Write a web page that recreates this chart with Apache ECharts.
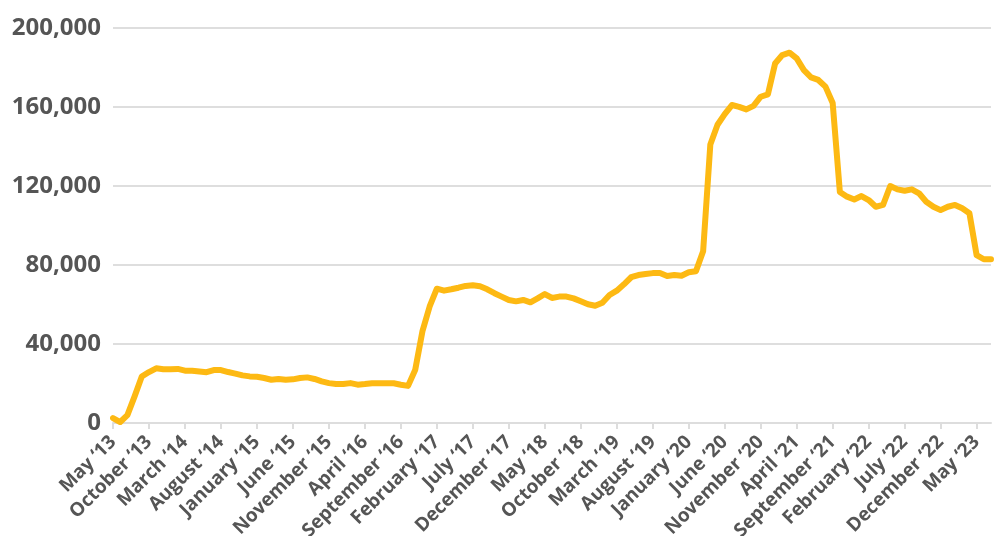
<!DOCTYPE html>
<html>
<head>
<meta charset="utf-8">
<script src="https://cdn.jsdelivr.net/npm/echarts@6/dist/echarts.min.js"></script>
<style>
  html, body { margin: 0; padding: 0; background: #fff; }
  #chart { width: 995px; height: 536px; }
</style>
</head>
<body>
<div id="chart"></div>
<script>
// Monthly series, May 2013 through July 2023
const monthNames = ['January', 'February', 'March', 'April', 'May', 'June', 'July',
  'August', 'September', 'October', 'November', 'December'];
const startYear = 2013;
const startMonth = 4; // May
const values = [
  2500, 500, 4000, 13500, 23500, 25800, 27700, 27200, 27200, 27400,
  26500, 26500, 26100, 25700, 26800, 26800, 25800, 25000, 24100, 23600,
  23400, 22800, 21900, 22300, 21900, 22100, 22800, 23100, 22300, 21100,
  20200, 19700, 19700, 20200, 19400, 19700, 20100, 20100, 20100, 20100,
  19400, 18800, 27000, 46500, 59000, 68000, 67000, 67700, 68500, 69400,
  69700, 69200, 67700, 65700, 64000, 62300, 61600, 62300, 61100, 63100,
  65300, 63300, 64000, 64000, 63100, 61600, 60100, 59400, 60900, 64800,
  67000, 70200, 73800, 74900, 75400, 75900, 75900, 74400, 74900, 74600,
  76300, 76800, 87000, 141000, 151000, 156400, 161000, 160100, 158800, 160600,
  165200, 166400, 182000, 186300, 187500, 184600, 178700, 175000, 173700, 170300,
  162000, 117000, 114600, 113200, 114900, 112900, 109500, 110400, 120000, 118300,
  117600, 118300, 116300, 112000, 109500, 107800, 109500, 110400, 108700, 106200,
  85000, 82900, 82900
];
const yTicks = [0, 40000, 80000, 120000, 160000, 200000];

const categories = values.map((_, i) => {
  const m = (startMonth + i) % 12;
  const y = startYear + Math.floor((startMonth + i) / 12);
  return monthNames[m] + ' \u2018' + String(y).slice(2);
});

const labelColor = '#555555';
const font = '"Open Sans", "DejaVu Sans", sans-serif';

const chart = echarts.init(document.getElementById('chart'), null, { renderer: 'canvas' });
chart.setOption({
  animation: false,
  backgroundColor: '#ffffff',
  grid: {
    left: 113, right: 4, top: 28, bottom: 113,
    containLabel: false,
    outerBoundsMode: 'none'
  },
  xAxis: {
    type: 'category',
    data: categories,
    boundaryGap: false,
    axisLine: { lineStyle: { color: '#dddddd', width: 2 } },
    axisTick: { show: true, interval: 4, length: 6, lineStyle: { color: '#dddddd', width: 2 } },
    axisLabel: {
      interval: 4,
      rotate: 45,
      margin: 16,
      color: labelColor,
      fontFamily: font,
      fontWeight: 'bold',
      fontSize: 19
    },
    splitLine: { show: false }
  },
  yAxis: {
    type: 'value',
    min: yTicks[0],
    max: yTicks[yTicks.length - 1],
    interval: yTicks[1] - yTicks[0],
    axisLine: { show: false },
    axisTick: { show: false },
    splitLine: { lineStyle: { color: '#dedede', width: 2 } },
    axisLabel: {
      margin: 12,
      color: labelColor,
      fontFamily: font,
      fontWeight: 'bold',
      fontSize: 24,
      formatter: v => v.toLocaleString('en-US')
    }
  },
  series: [{
    type: 'line',
    data: values,
    showSymbol: false,
    smooth: false,
    lineStyle: { color: '#FDB913', width: 6, join: 'round', cap: 'round' },
    itemStyle: { color: '#FDB913' }
  }]
});
</script>
</body>
</html>
